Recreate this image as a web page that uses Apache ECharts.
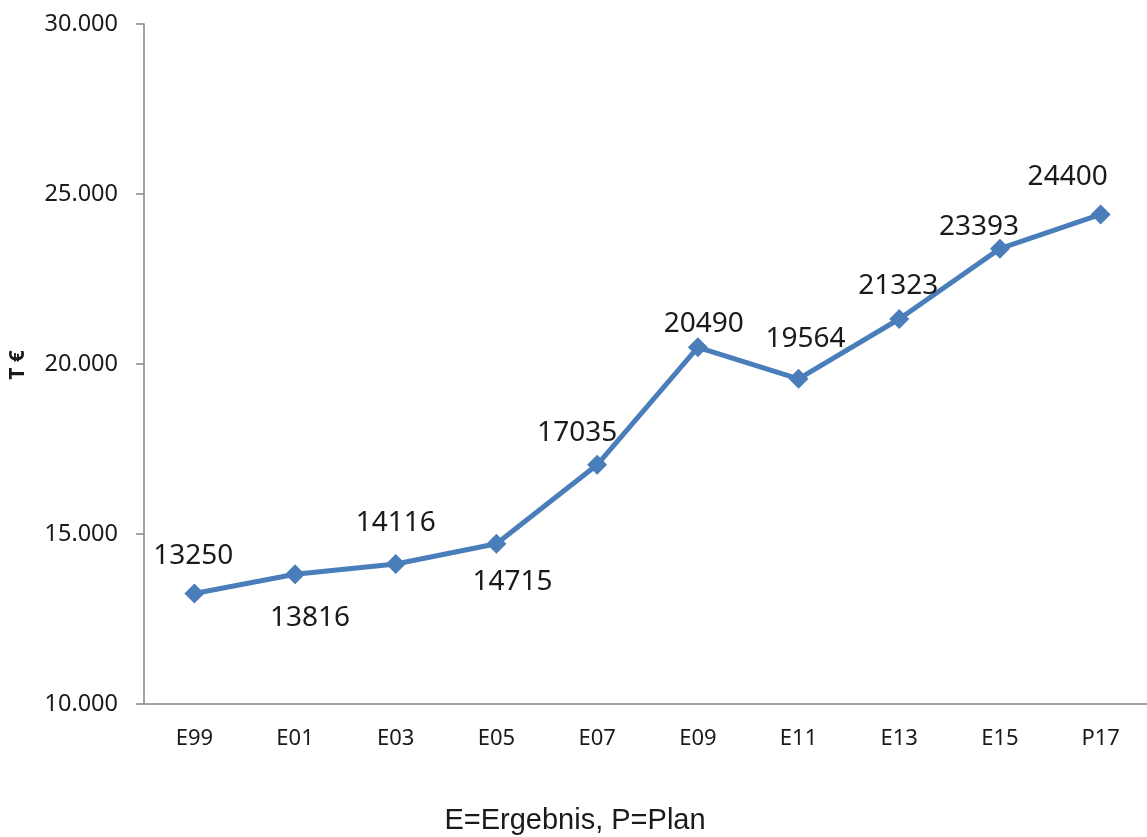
<!DOCTYPE html>
<html>
<head>
<meta charset="utf-8">
<script src="https://cdn.jsdelivr.net/npm/echarts@6/dist/echarts.min.js"></script>
<style>html,body{margin:0;padding:0;background:#fff;overflow:hidden;width:1147px;height:837px;}#c{width:1160px;height:837px;}</style>
</head>
<body>
<div id="c"></div>
<script>
var categories = ['E99','E01','E03','E05','E07','E09','E11','E13','E15','P17'];
var values = [13250, 13816, 14116, 14715, 17035, 20490, 19564, 21323, 23393, 24400];
var yTicks = {min: 10000, max: 30000, interval: 5000};
var labelOffsets = [[-1,-37],[15,44],[0,-41],[16,38],[-20,-32],[6,-23],[7,-40],[-1,-33],[-21,-22],[-33,-37]];

var chart = echarts.init(document.getElementById('c'), null, {renderer:'canvas'});
var axisColor = '#868686';
var txt = '#1a1a1a';
chart.setOption({
  animation: false,
  grid: {left: 144, top: 24, width: 1007, height: 680, containLabel: false},
  xAxis: {
    type: 'category',
    data: categories,
    boundaryGap: true,
    axisLine: {lineStyle: {color: axisColor, width: 1.5}},
    axisTick: {length: 8, lineStyle: {color: axisColor, width: 1.5}},
    axisLabel: {color: txt, fontFamily: 'Noto Sans', fontSize: 22, margin: 24}
  },
  yAxis: {
    type: 'value',
    min: yTicks.min, max: yTicks.max, interval: yTicks.interval,
    splitLine: {show: false},
    axisLine: {show: true, lineStyle: {color: axisColor, width: 1.5}},
    axisTick: {show: true, length: 8, lineStyle: {color: axisColor, width: 1.5}},
    axisLabel: {
      color: txt, fontFamily: 'Noto Sans', fontSize: 23.5, margin: 26,
      formatter: function(v){ return String(v).replace(/\B(?=(\d{3})+(?!\d))/g, '.'); }
    }
  },
  graphic: [
    {type: 'text', x: 18, y: 365, rotation: Math.PI/2,
     style: {text: 'T €', fill: txt, font: 'bold 21px "Noto Sans"', align: 'center', verticalAlign: 'middle'}},
    {type: 'text', x: 575, y: 821,
     style: {text: 'E=Ergebnis, P=Plan', fill: txt, font: '29px "Liberation Sans"', align: 'center', verticalAlign: 'middle'}}
  ],
  series: [{
    type: 'line',
    data: values.map(function(v, i){
      return {value: v, label: {offset: labelOffsets[i]}};
    }),
    symbol: 'diamond',
    symbolSize: 20,
    lineStyle: {color: '#4a7ebb', width: 5},
    itemStyle: {color: '#4a7ebb'},
    label: {show: true, position: 'inside', color: txt, fontFamily: 'Noto Sans', fontSize: 28}
  }]
});
</script>
</body>
</html>
